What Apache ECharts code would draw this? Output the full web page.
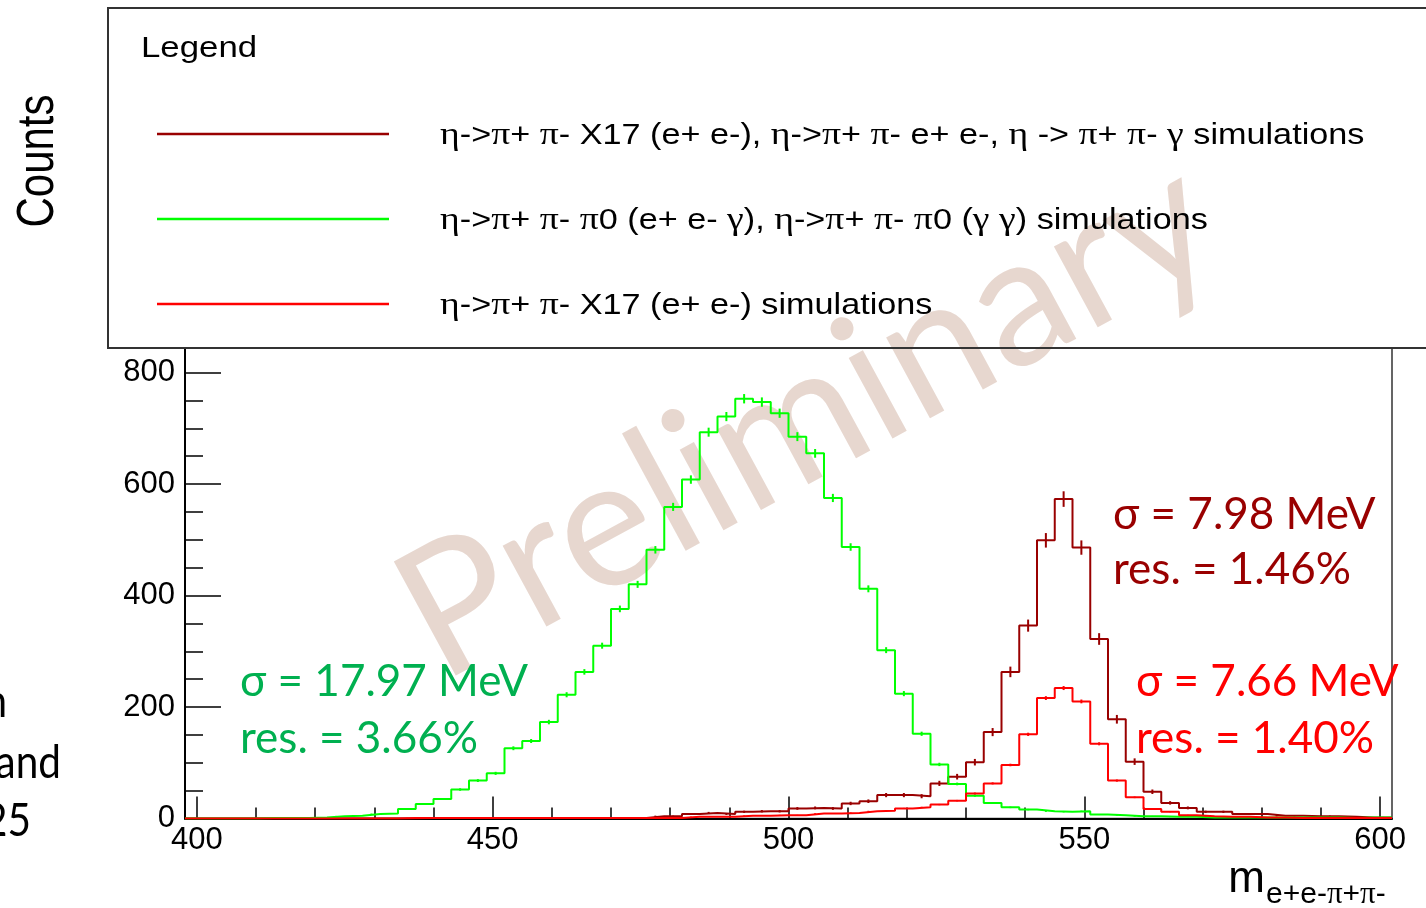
<!DOCTYPE html>
<html>
<head>
<meta charset="utf-8">
<title>Invariant mass of e+e-π+π-</title>
<script src="https://cdn.jsdelivr.net/npm/echarts@6.0.0/dist/echarts.min.js"></script>
<style>
  html, body { margin: 0; padding: 0; background: #ffffff; }
  #chart { width: 1426px; height: 908px; }
</style>
</head>
<body>
<div id="chart"></div>
<script>
// Histogram binning: 68 bins of 3 MeV starting at 398 MeV
const BIN_START = 398;
const BIN_WIDTH = 3;

// Counts per bin (bin low edges 398, 401, ..., 599)
const countsAll = [
  0, 0, 0, 0, 0, 0, 0, 0,
  0, 0, 0, 0, 0, 1, 1, 1, 1, 1,
  1, 1, 1, 1, 1, 1, 1, 1, 4, 4,
  8, 10, 8, 12, 13, 13, 18, 19, 18, 27,
  31, 42, 42, 40, 63, 75, 101, 155, 263, 346,
  499, 573, 486, 322, 178, 102, 48, 28, 19, 12,
  12, 8, 8, 5, 5, 4, 4, 3, 2, 2
];
const countsPi0 = [
  0, 0, 0, 0, 1, 1, 1, 2,
  4, 5, 8, 9, 17, 26, 35, 52, 68, 81,
  126, 139, 173, 222, 263, 310, 376, 420, 482, 559,
  608, 693, 721, 753, 747, 727, 685, 655, 575, 487,
  412, 302, 224, 152, 97, 62, 41, 28, 20, 16,
  13, 12, 13, 7, 6, 4, 4, 3, 3, 2,
  2, 2, 2, 2, 2, 2, 2, 1, 2, 2
];
const countsX17 = [
  0, 0, 0, 0, 0, 0, 0, 0,
  0, 0, 0, 0, 1, 1, 1, 1, 1, 1,
  1, 1, 1, 1, 1, 1, 1, 1, 1, 1,
  3, 3, 3, 5, 5, 6, 6, 9, 9, 10,
  13, 14, 18, 20, 25, 32, 45, 63, 96, 151,
  216, 234, 210, 134, 68, 38, 17, 12, 6, 4,
  3, 3, 2, 2, 1, 1, 1, 1, 1, 1
];

// Average event weight of each sample (error = sqrt(weight * content))
const weightAll = 0.34;
const weightPi0 = 0.094;
const weightX17 = 0.055;

const seriesNames = [
  'η->π+ π- X17 (e+ e-), η->π+ π- e+ e-, η -> π+ π- γ simulations',
  'η->π+ π- π0 (e+ e- γ), η->π+ π- π0 (γ γ) simulations',
  'η->π+ π- X17 (e+ e-) simulations'
];
const seriesColors = ['#990000', '#00ff00', '#ff0000'];

const xMajorTicks = [400, 450, 500, 550, 600];
const xMinorTicks = [410, 420, 430, 440, 460, 470, 480, 490, 510, 520, 530, 540, 560, 570, 580, 590];
const yMajorTicks = [0, 200, 400, 600, 800];
const yMinorTicks = [50, 100, 150, 250, 300, 350, 450, 500, 550, 650, 700, 750];

const fitLabels = [
  { lines: ['σ = 7.98 MeV', 'res. = 1.46%'], color: '#990000', x: 1113, y: [515, 570] },
  { lines: ['σ = 17.97 MeV', 'res. = 3.66%'], color: '#00b050', x: 240, y: [682, 739] },
  { lines: ['σ = 7.66 MeV', 'res. = 1.40%'], color: '#ff0000', x: 1136, y: [682, 739] }
];

const binLow = countsAll.map((_, i) => BIN_START + i * BIN_WIDTH);

function stepPoints(values) {
  const pts = values.map((v, i) => [binLow[i], v]);
  pts.push([binLow[values.length - 1] + BIN_WIDTH, values[values.length - 1]]);
  return pts;
}
function errorPoints(values, weight) {
  return values
    .map((v, i) => [binLow[i] + BIN_WIDTH / 2, v, Math.sqrt(weight * v)])
    .filter(p => p[1] > 0);
}

const histos = [
  { name: seriesNames[0], color: seriesColors[0], values: countsAll, weight: weightAll },
  { name: seriesNames[1], color: seriesColors[1], values: countsPi0, weight: weightPi0 },
  { name: seriesNames[2], color: seriesColors[2], values: countsX17, weight: weightX17 }
];

const series = [];
histos.forEach((h, k) => {
  series.push({
    name: h.name,
    type: 'line',
    step: 'end',
    xAxisIndex: 0,
    yAxisIndex: 0,
    data: stepPoints(h.values),
    showSymbol: false,
    symbol: 'none',
    lineStyle: { color: h.color, width: 2 },
    itemStyle: { color: h.color },
    z: 3 + k,
    silent: true
  });
  series.push({
    name: h.name + ' errors',
    type: 'custom',
    xAxisIndex: 0,
    yAxisIndex: 0,
    data: errorPoints(h.values, h.weight),
    z: 3 + k,
    silent: true,
    renderItem: function (params, api) {
      const x = api.value(0), y = api.value(1), e = api.value(2);
      const lo = api.coord([x, y - e]);
      const hi = api.coord([x, y + e]);
      return {
        type: 'line',
        shape: { x1: lo[0], y1: lo[1], x2: hi[0], y2: hi[1] },
        style: { stroke: h.color, lineWidth: 2 }
      };
    }
  });
});

const AXIS_FONT = 'Liberation Sans';

function greekRich(str) {
  return str.replace(/[ηπγ]/g, c => '{g|' + c + '}');
}

const graphics = [];

// Watermark
graphics.push({
  type: 'text',
  x: 806, y: 419,
  rotation: 28.5 * Math.PI / 180,
  z: 1,
  silent: true,
  style: {
    text: 'Preliminary',
    fill: '#e7d7cf',
    font: '181px Lato',
    textAlign: 'center', textVerticalAlign: 'middle',
    align: 'center', verticalAlign: 'middle'
  }
});

// Legend frame
graphics.push({
  type: 'rect',
  z: 2,
  silent: true,
  shape: { x: 108, y: 8, width: 1340, height: 340 },
  style: { fill: 'none', stroke: '#333333', lineWidth: 2 }
});
graphics.push({
  type: 'text',
  x: 141, y: 49, z: 8, scaleX: 1.16, silent: true,
  style: {
    text: 'Legend', fill: '#000', font: '30px "Liberation Sans"',
    textAlign: 'left', textVerticalAlign: 'middle', align: 'left', verticalAlign: 'middle'
  }
});
histos.forEach((h, k) => {
  const yy = 134 + 85 * k;
  graphics.push({
    type: 'line', z: 8, silent: true,
    shape: { x1: 157, y1: yy, x2: 389, y2: yy },
    style: { stroke: h.color, lineWidth: 2.5 }
  });
  graphics.push({
    type: 'text', x: 440, y: yy + 2, z: 8, scaleX: 1.18, silent: true,
    style: {
      text: greekRich(h.name), fill: '#000', font: '29px "Liberation Sans"',
      textAlign: 'left', textVerticalAlign: 'middle', align: 'left', verticalAlign: 'middle',
      rich: { g: { fill: '#000', fontSize: 32, fontFamily: 'Liberation Serif' } }
    }
  });
});

// Axis titles
graphics.push({
  type: 'text', x: 39, y: 161, rotation: Math.PI / 2, scaleY: 1.22, z: 8, silent: true,
  style: {
    text: 'Counts', fill: '#000', font: '42px "Liberation Sans"',
    textAlign: 'center', textVerticalAlign: 'middle', align: 'center', verticalAlign: 'middle'
  }
});
graphics.push({
  type: 'text', x: 1265, y: 902, z: 8, silent: true,
  style: {
    text: 'm', fill: '#000', font: '44px "Liberation Sans"',
    textAlign: 'right', textVerticalAlign: 'bottom', align: 'right', verticalAlign: 'bottom'
  }
});
graphics.push({
  type: 'text', x: 1266, y: 910, z: 8, silent: true,
  style: {
    text: greekRich('e+e-π+π-'), fill: '#000', font: '30px "Liberation Sans"',
    textAlign: 'left', textVerticalAlign: 'bottom', align: 'left', verticalAlign: 'bottom',
    rich: { g: { fontSize: 31, fontFamily: 'Liberation Serif', fill: '#000' } }
  }
});

// Fit results
fitLabels.forEach(f => {
  f.lines.forEach((t, j) => {
    graphics.push({
      type: 'text', x: f.x, y: f.y[j], z: 10, silent: true,
      style: {
        text: t, fill: f.color, font: '44px Lato',
        textAlign: 'left', textVerticalAlign: 'middle', align: 'left', verticalAlign: 'middle'
      }
    });
  });
});

// Slide text at the left border
[['n', 7, 702], ['and', 61, 763], ['25', 31, 821]].forEach(([t, x, y]) => {
  graphics.push({
    type: 'text', x: x, y: y, z: 8, scaleX: 0.88, silent: true,
    style: {
      text: t, fill: '#000', font: '46px Lato',
      textAlign: 'right', textVerticalAlign: 'middle', align: 'right', verticalAlign: 'middle'
    }
  });
});

const gridRect = { left: 185, right: 34, top: 348, bottom: 89.5 };

const option = {
  animation: false,
  backgroundColor: '#ffffff',
  grid: [
    Object.assign({ show: true, borderColor: '#333333', borderWidth: 1.5, backgroundColor: 'transparent' }, gridRect),
    Object.assign({ show: false }, gridRect)
  ],
  xAxis: [
    {
      type: 'value', gridIndex: 0, min: BIN_START, max: 602, position: 'bottom',
      axisLine: { show: true, onZero: false, lineStyle: { color: '#000', width: 2 } },
      axisTick: { show: true, inside: true, length: 22, customValues: xMajorTicks, lineStyle: { color: '#000', width: 1.5 } },
      axisLabel: { show: true, customValues: xMajorTicks, margin: 6, color: '#000', fontSize: 31, fontFamily: AXIS_FONT },
      splitLine: { show: false }
    },
    {
      type: 'value', gridIndex: 1, min: BIN_START, max: 602, position: 'bottom',
      axisLine: { show: false },
      axisTick: { show: true, inside: true, length: 11, customValues: xMinorTicks, lineStyle: { color: '#000', width: 1.5 } },
      axisLabel: { show: false },
      splitLine: { show: false }
    }
  ],
  yAxis: [
    {
      type: 'value', gridIndex: 0, min: 0, max: 844, position: 'left',
      axisLine: { show: true, onZero: false, lineStyle: { color: '#000', width: 2 } },
      axisTick: { show: true, inside: true, length: 36, customValues: yMajorTicks, lineStyle: { color: '#000', width: 1.5 } },
      axisLabel: { show: true, customValues: yMajorTicks, margin: 10, color: '#000', fontSize: 31, fontFamily: AXIS_FONT },
      splitLine: { show: false }
    },
    {
      type: 'value', gridIndex: 1, min: 0, max: 844, position: 'left',
      axisLine: { show: false },
      axisTick: { show: true, inside: true, length: 18, customValues: yMinorTicks, lineStyle: { color: '#000', width: 1.5 } },
      axisLabel: { show: false },
      splitLine: { show: false }
    }
  ],
  graphic: { elements: graphics },
  series: series
};

const chart = echarts.init(document.getElementById('chart'), null, { renderer: 'canvas' });
chart.setOption(option);
</script>
</body>
</html>
